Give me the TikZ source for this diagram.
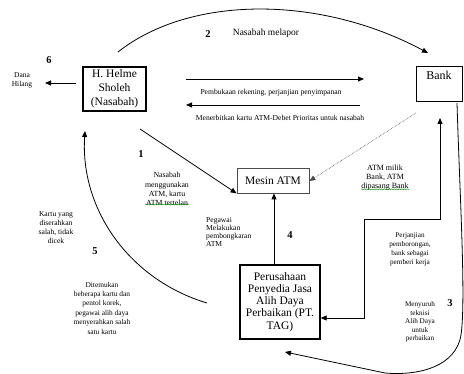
\documentclass[tikz,border=0pt]{standalone}
\usepackage{fontspec}
\setmainfont{Liberation Serif}
\usetikzlibrary{arrows.meta,decorations.pathmorphing}
\begin{document}
\begin{tikzpicture}[x=1pt,y=-1pt,
  box/.style={draw, line width=1.3pt, align=center, inner sep=0pt, font=\fontsize{11.5}{13}\selectfont},
  thinbox/.style={draw=black!70, line width=0.8pt, align=center, inner sep=0pt, font=\fontsize{11.5}{13}\selectfont},
  lab/.style={align=center, inner sep=0pt, font=\fontsize{7}{9}\selectfont},
  midlab/.style={inner sep=0pt, font=\fontsize{7.6}{9}\selectfont},
  num/.style={inner sep=0pt, font=\bfseries\fontsize{10.5}{12}\selectfont},
  arr/.style={-{Triangle[length=6pt,width=5pt]}, line width=0.8pt},
  dotarr/.style={-{Triangle[length=6pt,width=5pt]}, line width=0.6pt, densely dotted, draw=black!70},
  squig/.style={draw=green!55!black, line width=0.4pt, decorate, decoration={snake, amplitude=0.6pt, segment length=2.5pt}}]
\useasboundingbox (0,0) rectangle (464,374);

% boxes
\node[box, minimum width=63pt, minimum height=44pt, font=\fontsize{11.5}{14}\selectfont] (nas) at (114.5,89) {H. Helme\\Sholeh\\(Nasabah)};
\node[box, line width=1pt, minimum width=46pt, minimum height=35pt,
      label={[anchor=north, inner sep=0pt, yshift=-4pt, font=\fontsize{12}{13}\selectfont]north:Bank}] (bank) at (439,84.5) {};
\node[thinbox, minimum width=72pt, minimum height=25pt] (atm) at (273,180.5) {Mesin ATM};
\node[box, minimum width=80pt, minimum height=74pt, font=\fontsize{11.5}{12.2}\selectfont] (perus) at (280,302) {Perusahaan\\Penyedia Jasa\\Alih Daya\\Perbaikan (PT.\\TAG)};

% free ends
\coordinate (c2s) at (118,52);
\coordinate (c2e) at (428,53);
\coordinate (r1s) at (186,79);
\coordinate (r1e) at (364,79);
\coordinate (l1s) at (360,105);
\coordinate (l1e) at (186,105);
\coordinate (a1s) at (140,129);
\coordinate (dts) at (416,113);
\coordinate (p3a) at (440,118);
\coordinate (p3b) at (440,219);
\coordinate (p3c) at (364,219);
\coordinate (p3d) at (364,318);
\coordinate (b3s) at (457,103);
\coordinate (b3e) at (285,352);
\coordinate (a5s) at (207,303);
\coordinate (a5e) at (85,131);
\coordinate (d6e) at (45,83);

% labels
\node[num] (n6) at (49,60) {6};
\node[lab, font=\fontsize{7.5}{9}\selectfont] (dana) at (22,80) {Dana\\Hilang};
\node[num] (n2) at (208,34) {2};
\node[inner sep=0pt, font=\fontsize{9.5}{11}\selectfont] (lapor) at (266,33) {Nasabah melapor};
\node[midlab] (buka) at (271,93) {Pembukaan rekening, perjanjian penyimpanan};
\node[midlab] (terbit) at (280,118) {Menerbitkan kartu ATM-Debet Prioritas untuk nasabah};
\node[num] (n1) at (141,154) {1};
\node[lab, font=\fontsize{7.8}{9.3}\selectfont] (guna) at (167,189) {Nasabah\\menggunakan\\ATM, kartu\\ATM tertelan};
\node[lab, font=\fontsize{8}{9}\selectfont] (milik) at (385,178) {ATM milik\\Bank, ATM\\dipasang Bank};
\node[lab, align=left, anchor=west, font=\fontsize{7.6}{8.2}\selectfont] (bongkar) at (206,232) {Pegawai\\Melakukan\\pembongkaran\\ATM};
\node[num] (n4) at (290,235) {4};
\node[lab, font=\fontsize{7.2}{9}\selectfont] (janji) at (410,249) {Perjanjian\\pemborongan,\\bank sebagai\\pemberi kerja};
\node[num] (n3) at (450,303) {3};
\node[lab, font=\fontsize{7.2}{8.5}\selectfont] (suruh) at (420,322) {Menyuruh\\teknisi\\Alih Daya\\untuk\\perbaikan};
\node[num] (n5) at (95,251) {5};
\node[lab, font=\fontsize{7.6}{9}\selectfont] (kartu) at (56,228) {Kartu yang\\diserahkan\\salah, tidak\\dicek};
\node[lab, font=\fontsize{7.4}{9.4}\selectfont] (temu) at (102,308) {Ditemukan\\beberapa kartu dan\\pentol korek,\\pegawai alih daya\\menyerahkan salah\\satu kartu};

% spell-check squiggles
\draw[squig] ([yshift=1.5pt]guna.south west) -- ([yshift=1.5pt]guna.south east);
\draw[squig] ([yshift=1.5pt]milik.south west) -- ([yshift=1.5pt]milik.south east);

% connectors
\draw[arr] (nas.west |- d6e) ++(-6,0) coordinate (d6s) -- (d6e);
\draw[arr] (c2s) .. controls (190,-5) and (320,-5) .. (c2e);
\draw[arr] (r1s) -- (r1e);
\draw[arr] (l1s) -- (l1e);
\draw[arr] (a1s) -- (atm.south west);
\draw[dotarr] (dts) -- ([yshift=-0.5pt]atm.east);
\draw[arr] (perus.north -| 274,0) -- (atm.south -| 274,0);
\draw[{Triangle[length=6pt,width=5pt]}-{Triangle[length=6pt,width=5pt]}, line width=0.8pt] (p3a) -- (p3b) -- (p3c) -- (p3d) -- (perus.east |- p3d);
\draw[arr] (b3s) .. controls (460,200) and (466,300) .. (461,335)
  .. controls (456,366) and (420,376) .. (385,373) -- (b3e);
\draw[arr] (a5s) .. controls (130,280) and (80,210) .. (a5e);
\end{tikzpicture}
\end{document}
